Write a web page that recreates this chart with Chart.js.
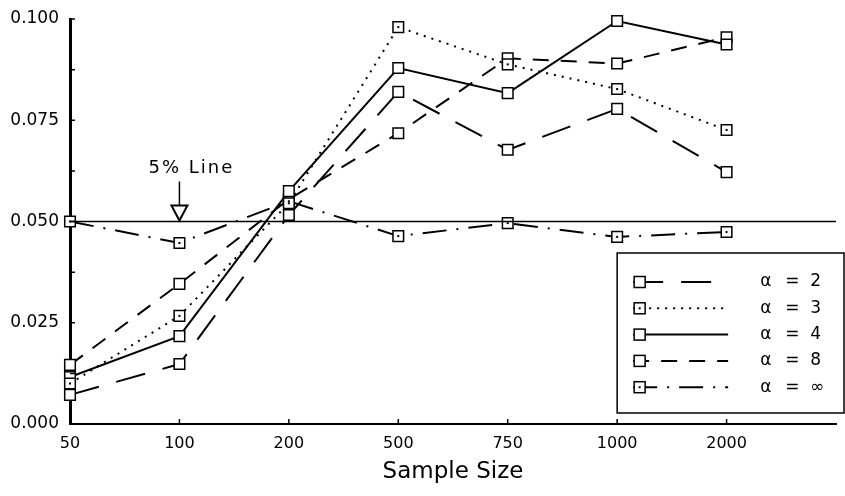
<!DOCTYPE html>
<html lang="en">
<head>
<meta charset="UTF-8">
<title>Sample Size</title>
<script src="https://cdn.jsdelivr.net/npm/chart.js"></script>
<style>
    body { margin: 0; background: #fff; }
    #grafico { display: block; }
</style>
</head>
<body>
<canvas id="grafico" width="845" height="496"></canvas>
<script>
    // valores (proporção de rejeição por tamanho de amostra)
    const categorias = ['50', '100', '200', '500', '750', '1000', '2000'];
    const alfa2 = [0.0072, 0.0148, 0.0516, 0.0820, 0.0677, 0.0778, 0.0622];
    const alfa3 = [0.0100, 0.0267, 0.0545, 0.0980, 0.0888, 0.0827, 0.0726];
    const alfa4 = [0.0116, 0.0217, 0.0575, 0.0879, 0.0817, 0.0995, 0.0937];
    const alfa8 = [0.0146, 0.0346, 0.0555, 0.0718, 0.0903, 0.0890, 0.0955];
    const alfaInf = [0.0500, 0.0447, 0.0550, 0.0464, 0.0496, 0.0462, 0.0474];
    const legendas = ['2', '3', '4', '8', '\u221E'];
    const linhaCinco = [0.05, 0.05];
    const yMin = 0, yMax = 0.1, yPasso = 0.0125;

    const fonte = '"DejaVu Sans", sans-serif';

    function pontos(valores) {
        return valores.map(function (v, i) { return { x: i, y: v }; });
    }

    function serie(valores, traco, comPonto) {
        return {
            data: pontos(valores),
            borderColor: '#000',
            borderWidth: 2,
            borderDash: traco,
            pointStyle: 'rect',
            pointRadius: 7.5,
            pointBorderWidth: 1.5,
            pointBorderColor: '#000',
            pointBackgroundColor: '#fff',
            tension: 0,
            clip: false,
            comPonto: comPonto
        };
    }

    const series = [
        serie(alfa2, [30, 18], false),
        serie(alfa3, [2, 6], true),
        serie(alfa4, [], false),
        serie(alfa8, [16, 12], false),
        serie(alfaInf, [24, 10, 2, 10], true)
    ];

    // linha de 5%
    const linha5 = {
        data: [{ x: 0, y: linhaCinco[0] }, { x: 7, y: linhaCinco[1] }],
        borderColor: '#000',
        borderWidth: 1.5,
        pointRadius: 0,
        clip: false
    };

    // pontinho dentro dos quadrados, ticks internos, seta e legenda
    const extras = {
        id: 'extras',
        afterDatasetsDraw(chart) {
            const ctx = chart.ctx;
            series.forEach(function (ds, i) {
                if (!ds.comPonto) return;
                chart.getDatasetMeta(i + 1).data.forEach(function (p) {
                    ctx.fillStyle = '#000';
                    ctx.fillRect(p.x - 1, p.y - 1, 2, 2);
                });
            });
        },
        afterDraw(chart) {
            const ctx = chart.ctx;
            const xs = chart.scales.x, ys = chart.scales.y;
            const area = chart.chartArea;
            ctx.save();
            ctx.strokeStyle = '#000';
            ctx.lineWidth = 1.5;
            ctx.setLineDash([]);

            // ticks para dentro
            ctx.beginPath();
            for (let v = yMin + yPasso; v <= yMax + 1e-9; v += yPasso) {
                const py = ys.getPixelForValue(v);
                ctx.moveTo(area.left, py);
                ctx.lineTo(area.left + 5, py);
            }
            for (let i = 1; i < categorias.length; i++) {
                const px = xs.getPixelForValue(i);
                ctx.moveTo(px, area.bottom);
                ctx.lineTo(px, area.bottom - 5);
            }
            ctx.stroke();

            // seta "5% Line"
            const ax = xs.getPixelForValue(1);
            const ay = ys.getPixelForValue(linhaCinco[0]);
            ctx.fillStyle = '#000';
            ctx.font = '18px ' + fonte;
            ctx.letterSpacing = '2px';
            ctx.textAlign = 'center';
            ctx.textBaseline = 'middle';
            ctx.fillText('5% Line', ax + 12, ay - 53);
            ctx.letterSpacing = '0px';
            ctx.beginPath();
            ctx.moveTo(ax, ay - 40);
            ctx.lineTo(ax, ay - 16);
            ctx.stroke();
            ctx.beginPath();
            ctx.moveTo(ax - 8, ay - 16);
            ctx.lineTo(ax + 8, ay - 16);
            ctx.lineTo(ax, ay - 1);
            ctx.closePath();
            ctx.fillStyle = '#fff';
            ctx.fill();
            ctx.lineWidth = 2;
            ctx.stroke();

            // legenda
            const bx = xs.getPixelForValue(5), by = 253;
            ctx.fillStyle = '#fff';
            ctx.fillRect(bx, by, 844 - bx, 160);
            ctx.lineWidth = 1.5;
            ctx.strokeRect(bx, by, 844 - bx, 160);
            series.forEach(function (ds, i) {
                const ry = 282 + i * 26.3;
                ctx.lineWidth = ds.borderWidth;
                ctx.setLineDash(ds.borderDash);
                ctx.beginPath();
                ctx.moveTo(bx + 16, ry);
                ctx.lineTo(bx + 111, ry);
                ctx.stroke();
                ctx.setLineDash([]);
                ctx.lineWidth = ds.pointBorderWidth;
                ctx.fillStyle = '#fff';
                ctx.fillRect(bx + 17, ry - 5.5, 11, 11);
                ctx.strokeRect(bx + 17, ry - 5.5, 11, 11);
                if (ds.comPonto) {
                    ctx.fillStyle = '#000';
                    ctx.fillRect(bx + 21.5, ry - 1, 2, 2);
                }
                ctx.fillStyle = '#000';
                ctx.font = '17px ' + fonte;
                ctx.textAlign = 'left';
                ctx.fillText('\u03B1', bx + 143, ry);
                ctx.fillText('=', bx + 168, ry);
                ctx.fillText(legendas[i], bx + 193, ry);
            });
            ctx.restore();
        }
    };

    const config = {
        type: 'line',
        data: { datasets: [linha5].concat(series) },
        options: {
            responsive: false,
            animation: false,
            devicePixelRatio: 1,
            layout: { padding: { top: 19, right: 0, left: 0, bottom: 0 } },
            plugins: { legend: { display: false }, tooltip: { enabled: false } },
            scales: {
                x: {
                    type: 'linear',
                    min: 0,
                    max: 7,
                    grid: { display: false },
                    border: { display: true, color: '#000', width: 2 },
                    ticks: {
                        stepSize: 1,
                        color: '#000',
                        padding: 2,
                        font: { family: fonte, size: 16 },
                        maxRotation: 0,
                        // o último tick fica sem rótulo (um espaço mantém a margem pequena)
                        callback: function (v) { return categorias[v] !== undefined ? categorias[v] : ' '; }
                    },
                    title: {
                        display: true,
                        text: 'Sample Size',
                        color: '#000',
                        font: { family: fonte, size: 23 },
                        padding: { top: 0, bottom: 10 }
                    },
                    afterFit: function (s) { s.height = 72; }
                },
                y: {
                    min: yMin,
                    max: yMax,
                    grid: { display: false },
                    border: { display: true, color: '#000', width: 3 },
                    ticks: {
                        stepSize: yPasso,
                        color: '#000',
                        padding: 3,
                        font: { family: fonte, size: 17 },
                        callback: function (v, i) { return i % 2 === 0 ? v.toFixed(3) : ''; }
                    },
                    afterFit: function (s) { s.width = 70; }
                }
            }
        },
        plugins: [extras]
    };

    new Chart(document.getElementById('grafico'), config);
</script>
</body>
</html>
